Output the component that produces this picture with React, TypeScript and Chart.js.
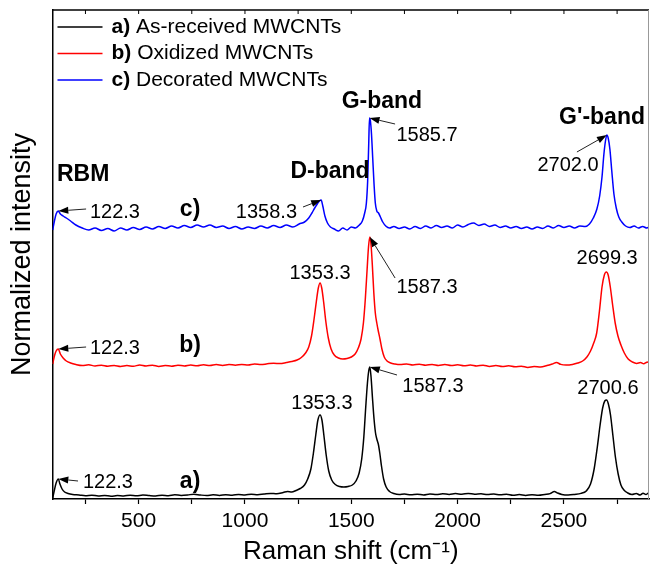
import React, { useEffect, useRef } from 'react';
import { Chart, registerables } from 'chart.js';

Chart.register(...registerables);

// ---------- data (Raman shift in cm-1, normalized intensity with stacking offsets) ----------
const shiftA = [96, 104, 112, 122.3, 130, 140, 152, 168, 190, 220, 250, 280, 310, 340, 370, 400, 430, 460, 490, 520, 550, 580, 610, 640, 670, 700, 730, 760, 790, 820, 850, 880, 910, 940, 970, 1000, 1030, 1060, 1090, 1120, 1150, 1180, 1200, 1220, 1240, 1260, 1280, 1295, 1310, 1322, 1333, 1343, 1353.3, 1362, 1371, 1382, 1394, 1408, 1425, 1445, 1465, 1485, 1505, 1522, 1537, 1549, 1559, 1568, 1576, 1582, 1587.3, 1593, 1600, 1607, 1614, 1620, 1627, 1634, 1642, 1652, 1664, 1680, 1700, 1725, 1750, 1780, 1810, 1840, 1870, 1900, 1930, 1960, 1990, 2020, 2050, 2080, 2110, 2140, 2170, 2200, 2230, 2260, 2290, 2320, 2350, 2380, 2410, 2435, 2455, 2470, 2490, 2520, 2550, 2580, 2605, 2625, 2642, 2657, 2670, 2682, 2692, 2700.6, 2709, 2719, 2730, 2742, 2755, 2768, 2782, 2800, 2820, 2840, 2858, 2872, 2886, 2900];
const intensityA = [1, 9, 16, 20, 15, 10, 7, 5.5, 4.5, 4, 3.2, 3.8, 3, 3.6, 2.8, 3.4, 3, 3.8, 3.2, 4, 3.4, 3, 3.8, 3.3, 4.2, 3.6, 4, 4.8, 4, 3.5, 4.2, 3.6, 4.3, 3.8, 4.6, 4, 4.8, 4.3, 5, 5.6, 5.2, 6.5, 7.5, 7, 8.5, 10.5, 14, 20, 30, 46, 64, 79, 84, 79, 64, 44, 28, 19, 14.5, 12.5, 12, 12.5, 14, 18, 26, 40, 62, 92, 116, 128, 132, 122, 100, 80, 66, 60, 55, 46, 33, 20, 12, 7.5, 5.5, 4.5, 5, 4.2, 4.8, 4, 5, 4.4, 5.2, 4.6, 5.4, 4.8, 5.6, 4.8, 5.2, 4.4, 5, 4.2, 4.8, 3.8, 4.4, 3.6, 4.2, 3.8, 4.6, 5.4, 7.5, 6, 4.6, 4, 4.6, 5.6, 8, 15, 30, 52, 74, 91, 98, 99, 95, 84, 64, 42, 25, 14, 9, 6, 4.5, 5.5, 4, 5.8, 4.5, 6.5];

const shiftB = [96, 104, 112, 122.3, 132, 145, 160, 180, 205, 235, 265, 295, 325, 355, 385, 415, 445, 475, 505, 535, 565, 595, 625, 655, 685, 715, 745, 775, 805, 835, 865, 895, 925, 955, 985, 1015, 1045, 1075, 1105, 1135, 1165, 1195, 1220, 1245, 1265, 1285, 1300, 1313, 1325, 1336, 1345, 1353.3, 1361, 1370, 1380, 1392, 1405, 1420, 1440, 1460, 1480, 1500, 1518, 1533, 1546, 1557, 1566, 1574, 1581, 1587.3, 1593, 1599, 1606, 1613, 1620, 1627, 1635, 1644, 1655, 1668, 1685, 1705, 1730, 1760, 1790, 1820, 1850, 1880, 1910, 1940, 1970, 2000, 2030, 2060, 2090, 2120, 2150, 2180, 2210, 2240, 2270, 2300, 2330, 2360, 2390, 2420, 2445, 2465, 2485, 2510, 2540, 2565, 2588, 2608, 2625, 2640, 2654, 2667, 2679, 2690, 2699.3, 2708, 2718, 2729, 2741, 2754, 2768, 2784, 2802, 2822, 2842, 2860, 2875, 2890, 2900];
const intensityB = [135, 143, 148, 150, 145, 141, 138, 136, 134.5, 133.5, 134.2, 133, 133.8, 132.8, 133.6, 132.6, 133.4, 132.8, 134, 133, 133.8, 132.6, 133.5, 132.8, 133.8, 133, 134, 133.2, 134.2, 133.4, 134.4, 133.6, 134.5, 133.8, 134.6, 134, 135, 134.4, 135.2, 135.8, 135.4, 136.5, 137.5, 139, 141.5, 146, 152, 163, 180, 198, 211, 216, 211, 197, 178, 161, 150, 144, 141, 140, 140.5, 142, 145, 151, 160, 176, 200, 228, 252, 262, 254, 234, 206, 186, 176, 168, 160, 150, 142, 138, 136, 135, 134.4, 135, 134, 134.8, 133.8, 134.6, 133.6, 134.4, 133.4, 134.2, 133.2, 134, 133, 133.8, 132.6, 133.4, 132.4, 133.2, 132.2, 132.8, 131.6, 132.4, 132, 133.4, 135, 136.5, 134.6, 134, 134.6, 136, 138, 142, 148, 156, 166, 188, 212, 224, 227, 224, 212, 194, 176, 163, 154, 146, 140, 137, 135.6, 136.5, 135.2, 136.8, 137];

const shiftC = [96, 104, 112, 122.3, 132, 145, 160, 180, 205, 235, 265, 295, 325, 355, 385, 415, 445, 475, 505, 535, 565, 595, 625, 655, 685, 715, 745, 775, 805, 835, 865, 895, 925, 955, 985, 1015, 1045, 1075, 1105, 1135, 1165, 1195, 1225, 1255, 1280, 1300, 1315, 1328, 1340, 1350, 1358.3, 1366, 1376, 1388, 1402, 1420, 1440, 1460, 1480, 1500, 1520, 1538, 1552, 1563, 1571, 1577, 1582, 1585.7, 1590, 1595, 1601, 1607, 1613, 1620, 1628, 1637, 1648, 1662, 1680, 1700, 1725, 1750, 1775, 1800, 1825, 1850, 1875, 1900, 1925, 1950, 1975, 2000, 2025, 2050, 2075, 2100, 2125, 2150, 2175, 2200, 2225, 2250, 2275, 2300, 2325, 2350, 2375, 2400, 2425, 2450, 2475, 2500, 2525, 2550, 2575, 2600, 2620, 2638, 2655, 2668, 2679, 2688, 2696, 2702, 2708, 2716, 2725, 2735, 2746, 2758, 2772, 2790, 2810, 2830, 2850, 2870, 2890, 2900];
const intensityC = [269, 278, 285, 288, 285, 283, 281, 278, 274, 271, 269, 271, 268.5, 270.5, 268, 271, 269, 271.5, 269.5, 272, 270, 272.5, 270.5, 273, 271, 273.5, 271.5, 274, 272, 274, 271.5, 273, 270.5, 272.5, 270, 272, 270.5, 273, 271, 273.5, 271.5, 274, 272, 275, 277, 281, 286, 291, 295, 298, 299, 293, 283, 276, 272, 270, 268, 271, 269, 272, 271, 274, 278, 286, 296, 318, 355, 381, 378, 365, 340, 315, 296, 288, 286, 282, 277, 273, 271, 272.5, 270.5, 272, 270, 272.5, 270.5, 273, 271, 273.5, 271.5, 273, 271, 274, 272, 274.5, 276, 273.5, 275, 272.5, 274, 271.5, 273, 271, 272.5, 270.5, 272, 270, 272, 270.5, 273, 271, 273.5, 271.5, 273, 271, 273, 272.5, 275, 281, 290, 303, 322, 345, 359, 364, 361, 350, 328, 305, 291, 282, 277, 273, 271.5, 273, 271, 272.5, 271, 272];

const seriesTags = ['a)', 'b)', 'c)'];
const seriesNames = ['As-received MWCNTs', 'Oxidized MWCNTs', 'Decorated MWCNTs'];
const seriesColors = ['#000000', '#ff0000', '#0000ff'];

const xMin = 95;
const xMax = 2900;
const xTickValues = [250, 500, 750, 1000, 1250, 1500, 1750, 2000, 2250, 2500, 2750];
const xLabelValues = [500, 1000, 1500, 2000, 2500];
const yMin = 0;
const yMax = 489;

// band / curve labels (data coordinates)
const bandTexts = ['RBM', 'D-band', 'G-band', "G'-band", 'c)', 'b)', 'a)'];
const bandX = [116, 1400, 1644, 2679, 742, 742, 742];
const bandY = [324, 327, 397, 381, 289, 153, 17];
const bandAlign = ['left', 'center', 'center', 'center', 'center', 'center', 'center'];

// peak value labels (data coordinates)
const peakTexts = ['122.3', '1358.3', '1585.7', '2702.0', '122.3', '1353.3', '1587.3', '2699.3', '122.3', '1353.3', '1587.3', '2700.6'];
const peakTextX = [271, 1101, 1856, 2519, 271, 1353.3, 1856, 2703, 238, 1362, 1884, 2707];
const peakTextY = [287, 287, 364, 334, 151, 226, 212, 241, 17, 96, 113, 111];
const peakTextAlign = ['left', 'center', 'center', 'center', 'left', 'center', 'center', 'center', 'left', 'center', 'center', 'center'];

// arrows: tail in data coords, head at a peak of a series
const arrowTailX = [253, 1273, 1706, 2561, 253, 1706, 215, 1715];
const arrowTailY = [290, 292, 375, 347, 152, 221, 18, 124];
const arrowSeries = [2, 2, 2, 2, 1, 1, 0, 0];
const arrowPeakX = [122.3, 1358.3, 1585.7, 2702, 122.3, 1587.3, 122.3, 1587.3];

const FONT = "'Liberation Sans', Arial, sans-serif";

const allShifts = [shiftA, shiftB, shiftC];
const allIntensities = [intensityA, intensityB, intensityC];

function peakValue(series: number, x: number): number {
  const xs = allShifts[series];
  let best = 0;
  for (let i = 0; i < xs.length; i++) {
    if (Math.abs(xs[i] - x) < Math.abs(xs[best] - x)) best = i;
  }
  return allIntensities[series][best];
}

function drawArrow(ctx: CanvasRenderingContext2D, x1: number, y1: number, x2: number, y2: number) {
  const ang = Math.atan2(y2 - y1, x2 - x1);
  const hl = 10;
  const hw = 3.5;
  const bx = x2 - hl * Math.cos(ang);
  const by = y2 - hl * Math.sin(ang);
  ctx.strokeStyle = '#222';
  ctx.fillStyle = '#000';
  ctx.lineWidth = 1;
  ctx.beginPath();
  ctx.moveTo(x1, y1);
  ctx.lineTo(bx, by);
  ctx.stroke();
  ctx.beginPath();
  ctx.moveTo(x2, y2);
  ctx.lineTo(bx + hw * Math.sin(ang), by - hw * Math.cos(ang));
  ctx.lineTo(bx - hw * Math.sin(ang), by + hw * Math.cos(ang));
  ctx.closePath();
  ctx.fill();
}

const overlayPlugin = {
  id: 'overlay',
  afterDatasetsDraw(chart: any) {
    const { ctx, chartArea: a, scales } = chart;
    const xs = scales.x;
    const ys = scales.y;
    ctx.save();

    // frame: top and right
    ctx.strokeStyle = '#000';
    ctx.lineWidth = 1.5;
    ctx.beginPath();
    ctx.moveTo(a.left, a.top);
    ctx.lineTo(a.right, a.top);
    ctx.stroke();
    ctx.strokeStyle = '#999';
    ctx.lineWidth = 1;
    ctx.beginPath();
    ctx.moveTo(a.right - 0.5, a.top);
    ctx.lineTo(a.right - 0.5, a.bottom);
    ctx.stroke();

    // mirrored top ticks (inward)
    ctx.strokeStyle = '#000';
    ctx.lineWidth = 1;
    for (const t of xs.ticks) {
      const px = xs.getPixelForValue(t.value);
      ctx.beginPath();
      ctx.moveTo(px, a.top);
      ctx.lineTo(px, a.top + 4);
      ctx.stroke();
    }

    // arrows
    for (let i = 0; i < arrowTailX.length; i++) {
      const tx = xs.getPixelForValue(arrowTailX[i]);
      const ty = ys.getPixelForValue(arrowTailY[i]);
      const hx = xs.getPixelForValue(arrowPeakX[i]);
      const hy = ys.getPixelForValue(peakValue(arrowSeries[i], arrowPeakX[i]));
      drawArrow(ctx, tx, ty, hx, hy);
    }

    // peak value labels
    ctx.fillStyle = '#000';
    ctx.textBaseline = 'middle';
    ctx.font = `20px ${FONT}`;
    for (let i = 0; i < peakTexts.length; i++) {
      ctx.textAlign = peakTextAlign[i];
      ctx.fillText(peakTexts[i], xs.getPixelForValue(peakTextX[i]), ys.getPixelForValue(peakTextY[i]));
    }

    // band labels
    ctx.font = `bold 23px ${FONT}`;
    for (let i = 0; i < bandTexts.length; i++) {
      ctx.textAlign = bandAlign[i];
      ctx.fillText(bandTexts[i], xs.getPixelForValue(bandX[i]), ys.getPixelForValue(bandY[i]));
    }

    // legend (inside, top-left)
    ctx.textAlign = 'left';
    for (let i = 0; i < seriesNames.length; i++) {
      const rowY = a.top + 17 + i * 26.5;
      const x0 = a.left + 5;
      ctx.strokeStyle = seriesColors[i];
      ctx.lineWidth = 1.5;
      ctx.beginPath();
      ctx.moveTo(x0, rowY);
      ctx.lineTo(x0 + 45, rowY);
      ctx.stroke();
      ctx.fillStyle = '#000';
      ctx.font = `bold 21px ${FONT}`;
      const tagX = x0 + 54;
      ctx.fillText(seriesTags[i], tagX, rowY);
      const w = ctx.measureText(seriesTags[i] + ' ').width;
      ctx.font = `21px ${FONT}`;
      ctx.fillText(seriesNames[i], tagX + w, rowY);
    }

    ctx.restore();
  },
};

export default function App() {
  const ref = useRef<HTMLCanvasElement>(null);
  useEffect(() => {
    document.body.style.margin = '0';
    const canvas = ref.current;
    if (!canvas) return;
    const datasets = allShifts.map((xs, s) => ({
      label: `${seriesTags[s]} ${seriesNames[s]}`,
      data: xs.map((x, i) => ({ x, y: allIntensities[s][i] })),
      borderColor: seriesColors[s],
      backgroundColor: seriesColors[s],
      borderWidth: 1.5,
      pointRadius: 0,
      cubicInterpolationMode: 'monotone' as const,
      fill: false,
    }));
    const chart = new Chart(canvas, {
      type: 'line',
      data: { datasets },
      options: {
        responsive: false,
        animation: false,
        devicePixelRatio: 1,
        layout: { padding: { top: 10, right: 1, bottom: 0, left: 0 } },
        plugins: { legend: { display: false }, tooltip: { enabled: false } },
        scales: {
          x: {
            type: 'linear',
            min: xMin,
            max: xMax,
            afterBuildTicks: (s: any) => { s.ticks = xTickValues.map((v) => ({ value: v })); },
            afterFit: (s: any) => { s.height = 66; },
            ticks: {
              autoSkip: false,
              maxRotation: 0,
              padding: 5,
              color: '#000',
              font: { family: FONT, size: 21 },
              callback: (v: any) => (xLabelValues.includes(Number(v)) ? String(v) : ''),
            },
            grid: {
              display: true,
              drawOnChartArea: false,
              drawTicks: true,
              tickLength: 5,
              tickColor: '#000',
              tickWidth: 1.2,
            },
            border: { display: true, color: '#000', width: 1.5 },
            title: {
              display: true,
              text: 'Raman shift (cm⁻¹)',
              color: '#000',
              font: { family: FONT, size: 26, lineHeight: 1.0 },
              padding: { top: 0, bottom: 0 },
            },
          },
          y: {
            type: 'linear',
            min: yMin,
            max: yMax,
            afterFit: (s: any) => { s.width = 52.5; },
            ticks: { display: false },
            grid: { display: false },
            border: { display: true, color: '#000', width: 1.5 },
            title: {
              display: true,
              text: 'Normalized intensity',
              color: '#000',
              font: { family: FONT, size: 27 },
              padding: { top: 6, bottom: 0 },
            },
          },
        },
      },
      plugins: [overlayPlugin],
    });
    return () => chart.destroy();
  }, []);
  return (
    <div style={{ width: 650, height: 565 }}>
      <canvas ref={ref} width={650} height={565} style={{ display: 'block' }} />
    </div>
  );
}
